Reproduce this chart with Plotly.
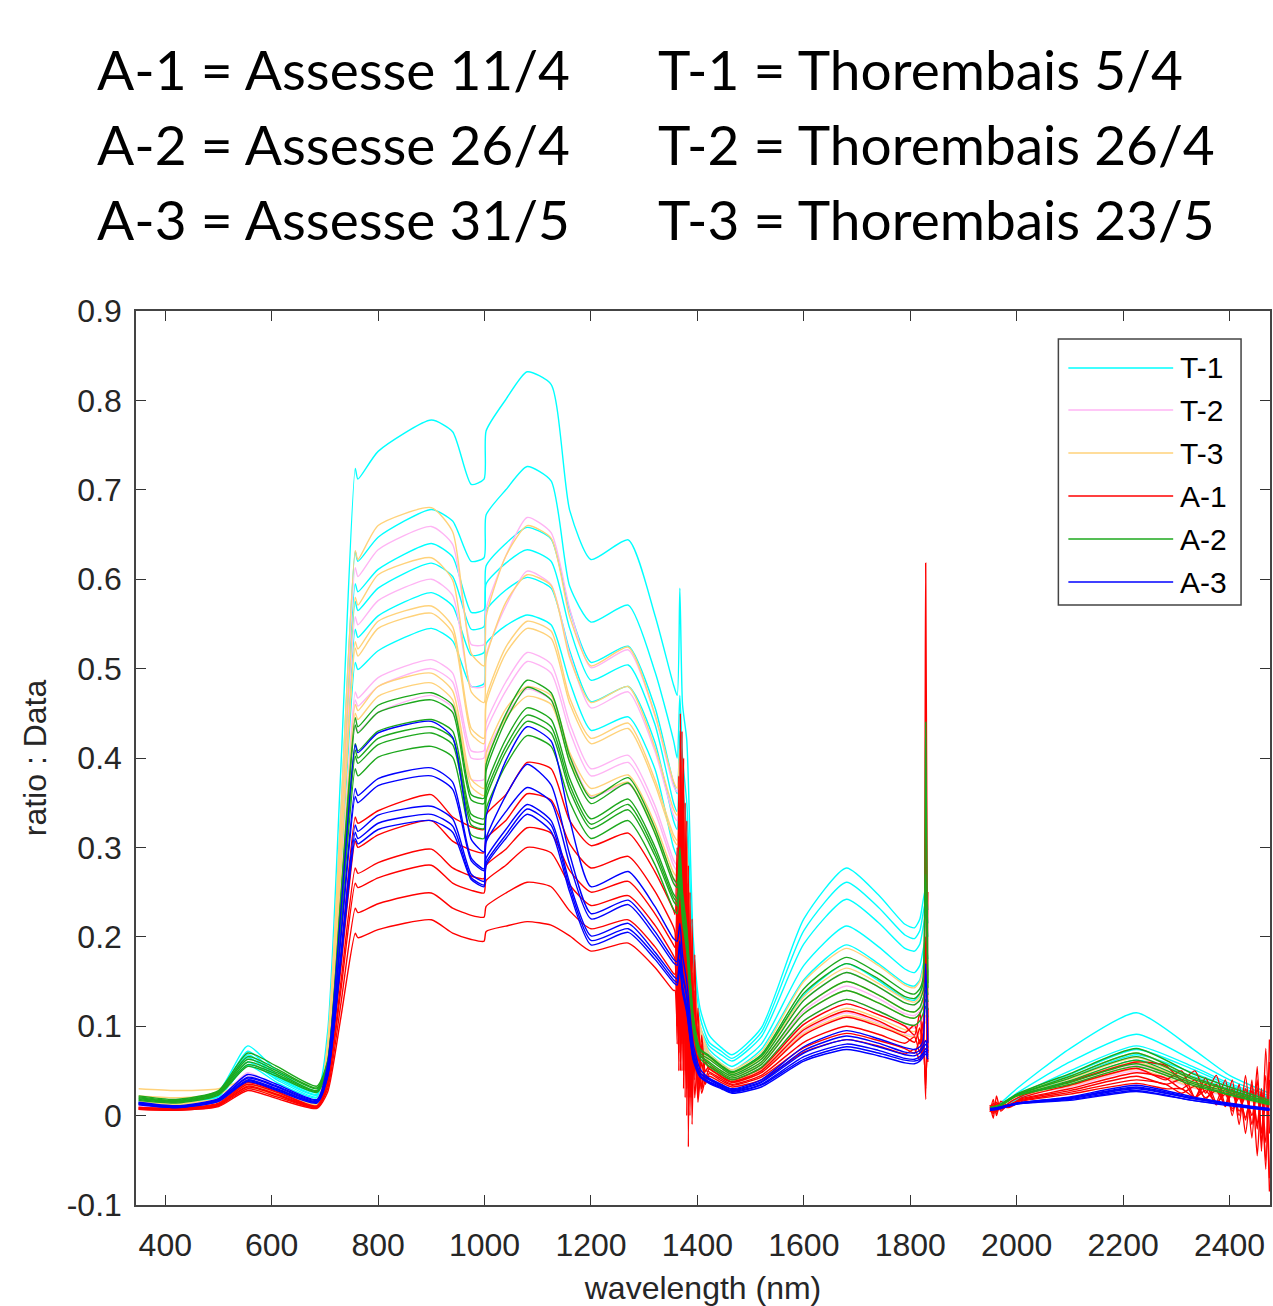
import plotly.graph_objects as go

# ---------------- wavelength grids (nm) ----------------
WL_VNIR = [350, 420, 500, 555, 610, 685, 705, 730, 757, 762, 800, 900, 940, 975, 999, 1003,
           1040, 1080, 1125, 1160, 1200, 1270, 1320, 1355]
WL_H2O_SMOOTH = [1362, 1367, 1372, 1380, 1392, 1405, 1422]
WL_H2O_NOISY = [1358, 1362, 1365, 1368, 1371, 1374, 1377, 1380, 1383, 1386, 1390, 1395, 1401, 1408, 1415, 1422]
WL_SWIR1 = [1445, 1465, 1520, 1600, 1680, 1740, 1790, 1808, 1818, 1824, 1829, 1833]
WL_GAP = 1890
WL_SWIR2_SMOOTH = [1950, 1965, 2000, 2100, 2225, 2330, 2400, 2475]
WL_SWIR2_NOISY = [1950, 1956, 1962, 1970, 1985, 2010, 2100, 2225, 2280, 2310, 2335, 2355, 2375, 2392,
                  2405, 2418, 2430, 2442, 2452, 2460, 2468, 2475]

# ---------------- T-1 (Thorembais 5/4) ----------------
T1_VNIR = [
    [0.016, 0.014, 0.027, 0.078, 0.050, 0.028, 0.093, 0.389, 0.724, 0.712, 0.743, 0.778, 0.765, 0.706, 0.712, 0.766, 0.801, 0.832, 0.818, 0.677, 0.622, 0.644, 0.560, 0.482],
    [0.015, 0.013, 0.025, 0.072, 0.046, 0.026, 0.081, 0.339, 0.631, 0.620, 0.647, 0.678, 0.665, 0.620, 0.624, 0.672, 0.700, 0.726, 0.710, 0.592, 0.552, 0.571, 0.497, 0.420],
    [0.015, 0.012, 0.024, 0.068, 0.044, 0.024, 0.077, 0.320, 0.595, 0.586, 0.611, 0.640, 0.625, 0.563, 0.566, 0.615, 0.640, 0.658, 0.645, 0.565, 0.507, 0.525, 0.457, 0.372],
    [0.014, 0.012, 0.023, 0.065, 0.042, 0.023, 0.074, 0.309, 0.575, 0.565, 0.590, 0.618, 0.603, 0.544, 0.547, 0.595, 0.618, 0.633, 0.620, 0.545, 0.487, 0.504, 0.438, 0.350],
    [0.014, 0.011, 0.022, 0.060, 0.040, 0.021, 0.070, 0.293, 0.544, 0.535, 0.559, 0.585, 0.570, 0.515, 0.518, 0.565, 0.588, 0.602, 0.590, 0.520, 0.463, 0.480, 0.418, 0.330],
    [0.013, 0.011, 0.021, 0.056, 0.037, 0.020, 0.065, 0.273, 0.507, 0.499, 0.520, 0.545, 0.531, 0.480, 0.483, 0.528, 0.548, 0.560, 0.549, 0.485, 0.431, 0.446, 0.388, 0.300],
]
T1_H2O = [
    [0.470, 0.590, 0.460, 0.420, 0.200, 0.120, 0.090],
    [0.400, 0.470, 0.400, 0.350, 0.180, 0.110, 0.082],
    [0.360, 0.430, 0.370, 0.320, 0.165, 0.100, 0.078],
    [0.340, 0.400, 0.345, 0.300, 0.155, 0.095, 0.074],
    [0.320, 0.380, 0.330, 0.280, 0.145, 0.090, 0.070],
    [0.290, 0.360, 0.300, 0.260, 0.135, 0.085, 0.066],
]
T1_SWIR1 = [
    [0.076, 0.068, 0.098, 0.220, 0.277, 0.247, 0.214, 0.210, 0.220, 0.240, 0.255, 0.230],
    [0.072, 0.064, 0.093, 0.207, 0.261, 0.233, 0.202, 0.198, 0.207, 0.226, 0.240, 0.215],
    [0.068, 0.061, 0.088, 0.192, 0.242, 0.216, 0.187, 0.184, 0.192, 0.210, 0.225, 0.200],
    [0.062, 0.055, 0.080, 0.168, 0.212, 0.189, 0.164, 0.160, 0.168, 0.185, 0.198, 0.175],
    [0.058, 0.051, 0.074, 0.152, 0.191, 0.170, 0.148, 0.145, 0.152, 0.168, 0.180, 0.160],
    [0.054, 0.048, 0.068, 0.135, 0.170, 0.151, 0.131, 0.129, 0.136, 0.150, 0.162, 0.142],
]
T1_SWIR2 = [
    [0.010, 0.012, 0.030, 0.075, 0.115, 0.075, 0.045, 0.025],
    [0.008, 0.010, 0.025, 0.060, 0.091, 0.062, 0.040, 0.022],
    [0.008, 0.010, 0.022, 0.050, 0.078, 0.055, 0.036, 0.020],
    [0.007, 0.009, 0.020, 0.046, 0.074, 0.052, 0.034, 0.019],
    [0.007, 0.009, 0.019, 0.042, 0.068, 0.048, 0.032, 0.018],
    [0.006, 0.008, 0.018, 0.038, 0.062, 0.044, 0.030, 0.017],
]

# ---------------- T-2 (Thorembais 26/4) ----------------
T2_VNIR = [
    [0.013, 0.011, 0.019, 0.048, 0.032, 0.016, 0.079, 0.330, 0.613, 0.603, 0.633, 0.659, 0.639, 0.527, 0.527, 0.567, 0.626, 0.669, 0.652, 0.567, 0.501, 0.521, 0.448, 0.369],
    [0.012, 0.010, 0.018, 0.045, 0.030, 0.015, 0.072, 0.300, 0.558, 0.549, 0.576, 0.600, 0.582, 0.480, 0.480, 0.516, 0.570, 0.609, 0.594, 0.516, 0.456, 0.474, 0.408, 0.336],
    [0.011, 0.010, 0.017, 0.042, 0.028, 0.014, 0.061, 0.255, 0.474, 0.467, 0.490, 0.510, 0.495, 0.408, 0.408, 0.439, 0.485, 0.518, 0.505, 0.439, 0.388, 0.403, 0.347, 0.286],
    [0.011, 0.009, 0.017, 0.041, 0.027, 0.014, 0.060, 0.250, 0.465, 0.458, 0.480, 0.500, 0.485, 0.400, 0.400, 0.430, 0.475, 0.508, 0.495, 0.430, 0.380, 0.395, 0.340, 0.280],
    [0.010, 0.009, 0.016, 0.040, 0.026, 0.013, 0.056, 0.235, 0.437, 0.430, 0.451, 0.470, 0.456, 0.376, 0.376, 0.404, 0.447, 0.477, 0.465, 0.404, 0.357, 0.371, 0.320, 0.263],
]
T2_H2O = [
    [0.362, 0.400, 0.350, 0.295, 0.155, 0.100, 0.064],
    [0.330, 0.365, 0.320, 0.270, 0.140, 0.090, 0.059],
    [0.280, 0.310, 0.272, 0.229, 0.120, 0.077, 0.055],
    [0.274, 0.305, 0.266, 0.224, 0.118, 0.076, 0.055],
    [0.258, 0.290, 0.250, 0.210, 0.110, 0.071, 0.053],
]
T2_SWIR1 = [
    [0.053, 0.046, 0.063, 0.129, 0.160, 0.144, 0.126, 0.124, 0.129, 0.139, 0.150, 0.135],
    [0.049, 0.043, 0.058, 0.117, 0.145, 0.131, 0.114, 0.112, 0.117, 0.127, 0.135, 0.123],
    [0.046, 0.040, 0.054, 0.106, 0.130, 0.117, 0.103, 0.101, 0.106, 0.114, 0.122, 0.110],
    [0.046, 0.040, 0.053, 0.102, 0.125, 0.113, 0.100, 0.098, 0.102, 0.110, 0.118, 0.106],
    [0.044, 0.038, 0.050, 0.094, 0.115, 0.104, 0.092, 0.090, 0.094, 0.101, 0.108, 0.098],
]
T2_SWIR2 = [
    [0.008, 0.010, 0.023, 0.042, 0.066, 0.041, 0.028, 0.015],
    [0.008, 0.010, 0.022, 0.038, 0.060, 0.037, 0.025, 0.013],
    [0.007, 0.009, 0.022, 0.035, 0.056, 0.035, 0.024, 0.012],
    [0.007, 0.009, 0.021, 0.033, 0.052, 0.032, 0.022, 0.011],
    [0.007, 0.009, 0.021, 0.032, 0.050, 0.031, 0.021, 0.011],
]

# ---------------- T-3 (Thorembais 23/5) ----------------
T3_VNIR = [
    [0.030, 0.028, 0.030, 0.040, 0.030, 0.018, 0.082, 0.340, 0.632, 0.622, 0.660, 0.680, 0.653, 0.517, 0.503, 0.558, 0.626, 0.660, 0.646, 0.558, 0.503, 0.524, 0.449, 0.374],
    [0.022, 0.020, 0.024, 0.038, 0.028, 0.016, 0.075, 0.312, 0.580, 0.571, 0.605, 0.624, 0.599, 0.474, 0.462, 0.512, 0.574, 0.605, 0.593, 0.512, 0.462, 0.480, 0.412, 0.343],
    [0.016, 0.014, 0.019, 0.035, 0.025, 0.014, 0.068, 0.285, 0.530, 0.522, 0.553, 0.570, 0.547, 0.433, 0.422, 0.467, 0.524, 0.553, 0.542, 0.467, 0.422, 0.439, 0.376, 0.314],
    [0.015, 0.013, 0.018, 0.034, 0.024, 0.013, 0.067, 0.281, 0.523, 0.514, 0.545, 0.562, 0.540, 0.427, 0.416, 0.461, 0.517, 0.545, 0.534, 0.461, 0.416, 0.433, 0.371, 0.309],
    [0.013, 0.012, 0.016, 0.032, 0.022, 0.012, 0.059, 0.248, 0.460, 0.453, 0.480, 0.495, 0.475, 0.376, 0.366, 0.406, 0.455, 0.480, 0.470, 0.406, 0.366, 0.381, 0.327, 0.272],
    [0.012, 0.011, 0.015, 0.031, 0.021, 0.011, 0.058, 0.242, 0.450, 0.443, 0.469, 0.484, 0.465, 0.368, 0.358, 0.397, 0.445, 0.469, 0.460, 0.397, 0.358, 0.373, 0.319, 0.266],
]
T3_H2O = [
    [0.366, 0.410, 0.355, 0.300, 0.157, 0.101, 0.070],
    [0.336, 0.377, 0.326, 0.274, 0.144, 0.093, 0.065],
    [0.308, 0.345, 0.298, 0.251, 0.132, 0.085, 0.060],
    [0.303, 0.340, 0.294, 0.247, 0.130, 0.083, 0.058],
    [0.267, 0.300, 0.258, 0.218, 0.114, 0.073, 0.054],
    [0.261, 0.293, 0.253, 0.213, 0.112, 0.072, 0.052],
]
T3_SWIR1 = [
    [0.058, 0.051, 0.071, 0.150, 0.187, 0.168, 0.146, 0.143, 0.150, 0.163, 0.175, 0.157],
    [0.054, 0.047, 0.065, 0.133, 0.165, 0.148, 0.130, 0.127, 0.133, 0.144, 0.155, 0.139],
    [0.050, 0.044, 0.060, 0.121, 0.150, 0.135, 0.118, 0.116, 0.121, 0.131, 0.140, 0.127],
    [0.048, 0.042, 0.057, 0.114, 0.140, 0.126, 0.111, 0.109, 0.114, 0.122, 0.130, 0.118],
    [0.045, 0.039, 0.051, 0.098, 0.120, 0.109, 0.096, 0.094, 0.098, 0.105, 0.112, 0.102],
    [0.043, 0.037, 0.048, 0.092, 0.112, 0.102, 0.090, 0.088, 0.092, 0.099, 0.105, 0.096],
]
T3_SWIR2 = [
    [0.009, 0.011, 0.023, 0.044, 0.070, 0.043, 0.029, 0.015],
    [0.008, 0.010, 0.023, 0.041, 0.065, 0.040, 0.027, 0.014],
    [0.008, 0.010, 0.022, 0.038, 0.060, 0.037, 0.025, 0.013],
    [0.008, 0.010, 0.022, 0.037, 0.058, 0.036, 0.024, 0.013],
    [0.007, 0.009, 0.022, 0.035, 0.055, 0.034, 0.023, 0.012],
    [0.007, 0.009, 0.021, 0.033, 0.052, 0.032, 0.022, 0.011],
]

# ---------------- A-1 (Assesse 11/4) ----------------
A1_VNIR = [
    [0.009, 0.008, 0.014, 0.037, 0.027, 0.011, 0.043, 0.180, 0.334, 0.327, 0.341, 0.359, 0.334, 0.323, 0.320, 0.337, 0.359, 0.395, 0.388, 0.330, 0.302, 0.316, 0.273, 0.230],
    [0.009, 0.008, 0.013, 0.035, 0.026, 0.010, 0.040, 0.165, 0.307, 0.300, 0.314, 0.330, 0.307, 0.297, 0.294, 0.310, 0.330, 0.360, 0.353, 0.304, 0.277, 0.290, 0.251, 0.211],
    [0.008, 0.007, 0.012, 0.033, 0.024, 0.010, 0.036, 0.149, 0.277, 0.271, 0.283, 0.298, 0.277, 0.268, 0.265, 0.280, 0.298, 0.322, 0.316, 0.274, 0.250, 0.262, 0.226, 0.191],
    [0.008, 0.007, 0.012, 0.032, 0.023, 0.009, 0.034, 0.140, 0.260, 0.255, 0.266, 0.280, 0.260, 0.252, 0.249, 0.263, 0.280, 0.300, 0.294, 0.258, 0.235, 0.246, 0.213, 0.179],
    [0.007, 0.006, 0.011, 0.030, 0.021, 0.009, 0.030, 0.125, 0.232, 0.227, 0.237, 0.249, 0.232, 0.224, 0.222, 0.234, 0.249, 0.261, 0.256, 0.229, 0.209, 0.219, 0.189, 0.159],
    [0.007, 0.006, 0.010, 0.028, 0.019, 0.008, 0.026, 0.110, 0.204, 0.199, 0.208, 0.219, 0.204, 0.197, 0.195, 0.206, 0.212, 0.217, 0.213, 0.201, 0.184, 0.193, 0.166, 0.140],
]
A1_H2O = [
    [0.225, 0.300, 0.120, 0.450, 0.080, 0.400, 0.050, 0.330, -0.035, 0.250, 0.020, 0.180, 0.030, 0.090, 0.050, 0.055],
    [0.205, 0.100, 0.380, 0.050, 0.430, 0.100, 0.350, 0.000, 0.280, 0.020, 0.220, 0.040, 0.120, 0.030, 0.060, 0.053],
    [0.188, 0.250, 0.050, 0.350, 0.120, 0.300, 0.020, 0.260, 0.060, 0.200, -0.010, 0.140, 0.020, 0.080, 0.040, 0.052],
    [0.175, 0.080, 0.280, 0.100, 0.320, 0.030, 0.270, 0.080, 0.220, 0.000, 0.160, 0.050, 0.100, 0.030, 0.050, 0.049],
    [0.158, 0.220, 0.070, 0.250, 0.050, 0.240, 0.100, 0.180, 0.020, 0.150, 0.040, 0.100, 0.015, 0.060, 0.035, 0.047],
    [0.140, 0.100, 0.200, 0.060, 0.210, 0.080, 0.170, 0.030, 0.150, 0.040, 0.110, 0.020, 0.070, 0.025, 0.040, 0.044],
]
A1_SWIR1 = [
    [0.046, 0.040, 0.053, 0.102, 0.125, 0.113, 0.100, 0.090, 0.115, 0.080, 0.618, 0.090],
    [0.044, 0.038, 0.050, 0.096, 0.117, 0.106, 0.093, 0.101, 0.080, 0.105, 0.018, 0.250],
    [0.043, 0.037, 0.048, 0.090, 0.110, 0.100, 0.088, 0.082, 0.098, 0.070, 0.350, 0.060],
    [0.041, 0.035, 0.045, 0.082, 0.100, 0.091, 0.081, 0.088, 0.070, 0.092, 0.030, 0.120],
    [0.039, 0.034, 0.043, 0.076, 0.092, 0.084, 0.075, 0.070, 0.085, 0.065, 0.200, 0.070],
    [0.037, 0.032, 0.040, 0.071, 0.085, 0.078, 0.069, 0.074, 0.062, 0.080, 0.040, 0.090],
]
A1_SWIR2 = [
    [0.012, -0.003, 0.022, 0.005, 0.014, 0.022, 0.038, 0.060, 0.056, 0.040, 0.050, 0.025, 0.045, 0.012, 0.040, -0.010, 0.045, -0.025, 0.055, -0.040, 0.075, -0.020],
    [0.004, 0.018, 0.000, 0.016, 0.010, 0.020, 0.034, 0.053, 0.040, 0.050, 0.020, 0.042, 0.015, 0.040, 0.000, 0.035, -0.020, 0.040, -0.045, 0.030, -0.060, 0.085],
    [0.010, 0.002, 0.015, 0.008, 0.012, 0.019, 0.030, 0.048, 0.042, 0.030, 0.040, 0.018, 0.035, 0.010, 0.030, 0.000, 0.030, -0.010, 0.040, -0.030, 0.020, -0.085],
    [0.006, 0.014, 0.004, 0.012, 0.010, 0.018, 0.028, 0.044, 0.035, 0.040, 0.020, 0.035, 0.012, 0.030, 0.005, 0.025, -0.005, 0.035, -0.015, 0.025, -0.050, 0.040],
    [0.009, 0.004, 0.013, 0.007, 0.011, 0.017, 0.026, 0.040, 0.035, 0.025, 0.033, 0.020, 0.028, 0.012, 0.025, 0.005, 0.022, 0.000, 0.030, -0.020, 0.045, -0.070],
    [0.007, 0.012, 0.005, 0.010, 0.009, 0.016, 0.024, 0.036, 0.030, 0.030, 0.020, 0.028, 0.014, 0.024, 0.008, 0.020, -0.002, 0.028, -0.010, 0.030, -0.030, 0.060],
]

# ---------------- A-2 (Assesse 26/4) ----------------
A2_VNIR = [
    [0.022, 0.018, 0.028, 0.070, 0.055, 0.033, 0.061, 0.246, 0.445, 0.435, 0.459, 0.473, 0.459, 0.359, 0.355, 0.393, 0.449, 0.487, 0.473, 0.402, 0.355, 0.378, 0.322, 0.265],
    [0.021, 0.017, 0.027, 0.066, 0.052, 0.031, 0.060, 0.242, 0.437, 0.428, 0.451, 0.465, 0.451, 0.353, 0.349, 0.386, 0.442, 0.479, 0.465, 0.395, 0.349, 0.372, 0.316, 0.260],
    [0.020, 0.016, 0.026, 0.063, 0.050, 0.030, 0.058, 0.230, 0.416, 0.408, 0.430, 0.443, 0.430, 0.337, 0.332, 0.368, 0.421, 0.456, 0.443, 0.377, 0.332, 0.354, 0.301, 0.248],
    [0.019, 0.016, 0.025, 0.060, 0.048, 0.028, 0.057, 0.226, 0.409, 0.400, 0.422, 0.435, 0.422, 0.331, 0.326, 0.361, 0.413, 0.448, 0.435, 0.370, 0.326, 0.348, 0.296, 0.244],
    [0.018, 0.015, 0.024, 0.057, 0.046, 0.027, 0.056, 0.223, 0.402, 0.394, 0.415, 0.428, 0.415, 0.325, 0.321, 0.355, 0.407, 0.441, 0.428, 0.364, 0.321, 0.342, 0.291, 0.240],
    [0.017, 0.014, 0.023, 0.055, 0.044, 0.026, 0.054, 0.215, 0.388, 0.380, 0.401, 0.413, 0.401, 0.314, 0.310, 0.343, 0.392, 0.425, 0.413, 0.351, 0.310, 0.330, 0.281, 0.231],
]
A2_H2O = [
    [0.260, 0.300, 0.250, 0.210, 0.112, 0.075, 0.067],
    [0.255, 0.290, 0.245, 0.206, 0.110, 0.073, 0.066],
    [0.243, 0.278, 0.234, 0.196, 0.105, 0.070, 0.063],
    [0.239, 0.272, 0.230, 0.193, 0.103, 0.068, 0.060],
    [0.235, 0.268, 0.226, 0.190, 0.101, 0.067, 0.058],
    [0.226, 0.258, 0.218, 0.183, 0.097, 0.064, 0.055],
]
A2_SWIR1 = [
    [0.056, 0.049, 0.068, 0.142, 0.177, 0.159, 0.139, 0.136, 0.142, 0.154, 0.440, 0.148],
    [0.055, 0.048, 0.066, 0.137, 0.170, 0.153, 0.133, 0.131, 0.137, 0.148, 0.270, 0.143],
    [0.053, 0.046, 0.063, 0.129, 0.160, 0.144, 0.126, 0.124, 0.129, 0.139, 0.150, 0.135],
    [0.050, 0.044, 0.060, 0.121, 0.150, 0.135, 0.118, 0.116, 0.121, 0.131, 0.140, 0.127],
    [0.048, 0.042, 0.057, 0.114, 0.140, 0.126, 0.111, 0.109, 0.114, 0.122, 0.130, 0.118],
    [0.046, 0.040, 0.054, 0.106, 0.130, 0.117, 0.103, 0.101, 0.106, 0.114, 0.122, 0.110],
]
A2_SWIR2 = [
    [0.009, 0.011, 0.024, 0.047, 0.075, 0.047, 0.032, 0.017],
    [0.009, 0.011, 0.023, 0.044, 0.070, 0.043, 0.029, 0.015],
    [0.008, 0.010, 0.023, 0.042, 0.066, 0.041, 0.028, 0.015],
    [0.008, 0.010, 0.022, 0.039, 0.062, 0.038, 0.026, 0.014],
    [0.008, 0.010, 0.022, 0.037, 0.058, 0.036, 0.024, 0.013],
    [0.007, 0.009, 0.022, 0.035, 0.055, 0.034, 0.023, 0.012],
]

# ---------------- A-3 (Assesse 31/5) ----------------
A3_VNIR = [
    [0.015, 0.011, 0.019, 0.046, 0.035, 0.018, 0.057, 0.229, 0.415, 0.406, 0.428, 0.441, 0.423, 0.309, 0.295, 0.335, 0.397, 0.435, 0.419, 0.331, 0.256, 0.273, 0.234, 0.198],
    [0.014, 0.010, 0.018, 0.043, 0.033, 0.017, 0.051, 0.202, 0.366, 0.358, 0.377, 0.389, 0.373, 0.288, 0.276, 0.310, 0.358, 0.393, 0.370, 0.292, 0.226, 0.241, 0.206, 0.175],
    [0.014, 0.010, 0.018, 0.042, 0.032, 0.016, 0.049, 0.198, 0.357, 0.350, 0.369, 0.380, 0.365, 0.285, 0.274, 0.306, 0.340, 0.367, 0.351, 0.281, 0.220, 0.236, 0.201, 0.171],
    [0.013, 0.009, 0.017, 0.040, 0.030, 0.015, 0.045, 0.180, 0.325, 0.318, 0.336, 0.346, 0.332, 0.270, 0.262, 0.288, 0.320, 0.348, 0.330, 0.260, 0.201, 0.215, 0.183, 0.156],
    [0.013, 0.009, 0.016, 0.039, 0.029, 0.015, 0.044, 0.175, 0.317, 0.310, 0.327, 0.337, 0.324, 0.266, 0.258, 0.283, 0.314, 0.343, 0.325, 0.255, 0.196, 0.209, 0.179, 0.152],
    [0.012, 0.009, 0.016, 0.038, 0.028, 0.014, 0.043, 0.172, 0.310, 0.304, 0.320, 0.330, 0.317, 0.264, 0.256, 0.280, 0.310, 0.337, 0.318, 0.250, 0.191, 0.205, 0.175, 0.149],
]
A3_H2O = [
    [0.195, 0.215, 0.180, 0.150, 0.080, 0.052, 0.042],
    [0.172, 0.195, 0.160, 0.135, 0.072, 0.048, 0.041],
    [0.168, 0.190, 0.157, 0.132, 0.070, 0.047, 0.040],
    [0.153, 0.175, 0.145, 0.122, 0.066, 0.045, 0.038],
    [0.149, 0.170, 0.141, 0.118, 0.064, 0.044, 0.037],
    [0.146, 0.165, 0.138, 0.115, 0.062, 0.043, 0.036],
]
A3_SWIR1 = [
    [0.035, 0.030, 0.040, 0.077, 0.095, 0.086, 0.076, 0.074, 0.077, 0.083, 0.170, 0.081],
    [0.034, 0.029, 0.038, 0.073, 0.089, 0.081, 0.071, 0.070, 0.073, 0.078, 0.084, 0.076],
    [0.033, 0.028, 0.037, 0.070, 0.085, 0.077, 0.068, 0.067, 0.070, 0.075, 0.080, 0.072],
    [0.032, 0.027, 0.035, 0.066, 0.080, 0.073, 0.064, 0.063, 0.066, 0.070, 0.075, 0.068],
    [0.031, 0.026, 0.034, 0.063, 0.077, 0.070, 0.062, 0.061, 0.063, 0.068, 0.072, 0.066],
    [0.030, 0.025, 0.032, 0.061, 0.074, 0.067, 0.059, 0.058, 0.061, 0.065, 0.069, 0.063],
]
A3_SWIR2 = [
    [0.008, 0.009, 0.014, 0.021, 0.034, 0.021, 0.014, 0.008],
    [0.007, 0.009, 0.014, 0.020, 0.032, 0.020, 0.013, 0.007],
    [0.007, 0.008, 0.014, 0.020, 0.031, 0.019, 0.013, 0.007],
    [0.007, 0.008, 0.013, 0.019, 0.030, 0.019, 0.013, 0.007],
    [0.006, 0.008, 0.013, 0.018, 0.028, 0.017, 0.012, 0.006],
    [0.006, 0.007, 0.013, 0.017, 0.027, 0.017, 0.011, 0.006],
]

GROUP_NAMES = ["T-1", "T-2", "T-3", "A-1", "A-2", "A-3"]
GROUP_COLORS = ["#00FFFF", "#FFB4F4", "#FFD27A", "#FF0000", "#1DA81D", "#0000FF"]
TITLE_LEFT = ["A-1 = Assesse 11/4", "A-2 = Assesse 26/4", "A-3 = Assesse 31/5"]
TITLE_RIGHT = ["T-1 = Thorembais 5/4", "T-2 = Thorembais 26/4", "T-3 = Thorembais 23/5"]
Y_TICKS = [-0.1, 0, 0.1, 0.2, 0.3, 0.4, 0.5, 0.6, 0.7, 0.8, 0.9]
Y_TICKTEXT = ["-0.1", "0", "0.1", "0.2", "0.3", "0.4", "0.5", "0.6", "0.7", "0.8", "0.9"]
X_TICKS = [400, 600, 800, 1000, 1200, 1400, 1600, 1800, 2000, 2200, 2400]

groups = [
    (T1_VNIR, T1_H2O, WL_H2O_SMOOTH, T1_SWIR1, T1_SWIR2, WL_SWIR2_SMOOTH),
    (T2_VNIR, T2_H2O, WL_H2O_SMOOTH, T2_SWIR1, T2_SWIR2, WL_SWIR2_SMOOTH),
    (T3_VNIR, T3_H2O, WL_H2O_SMOOTH, T3_SWIR1, T3_SWIR2, WL_SWIR2_SMOOTH),
    (A1_VNIR, A1_H2O, WL_H2O_NOISY, A1_SWIR1, A1_SWIR2, WL_SWIR2_NOISY),
    (A2_VNIR, A2_H2O, WL_H2O_SMOOTH, A2_SWIR1, A2_SWIR2, WL_SWIR2_SMOOTH),
    (A3_VNIR, A3_H2O, WL_H2O_SMOOTH, A3_SWIR1, A3_SWIR2, WL_SWIR2_SMOOTH),
]

fig = go.Figure()
for (vn, h2, h2x, s1, s2, s2x), name, color in zip(groups, GROUP_NAMES, GROUP_COLORS):
    for i in range(len(vn)):
        x = WL_VNIR + h2x + WL_SWIR1 + [WL_GAP] + s2x
        y = vn[i] + h2[i] + s1[i] + [None] + s2[i]
        fig.add_trace(go.Scatter(x=x, y=y, mode="lines", name=name, legendgroup=name,
                                 showlegend=False, connectgaps=False,
                                 line=dict(color=color, width=1.4, shape="spline", smoothing=0.6),
                                 hoverinfo="skip"))

AX_FONT = "Liberation Sans, Arial, Helvetica, sans-serif"
fig.update_layout(
    width=1273, height=1306,
    margin=dict(l=136, r=1, t=311, b=101),
    paper_bgcolor="white", plot_bgcolor="white",
    showlegend=False,
    xaxis=dict(range=[345, 2476], tickvals=X_TICKS, ticks="inside", ticklen=10, tickwidth=1.2,
               tickcolor="#333333", showline=True, linecolor="#444444", linewidth=1.5, mirror="ticks",
               showgrid=False, zeroline=False,
               tickfont=dict(family=AX_FONT, size=32, color="#262626"), ticklabelstandoff=11,
               title=dict(text="wavelength (nm)", font=dict(family=AX_FONT, size=32, color="#262626"), standoff=14)),
    yaxis=dict(range=[-0.1, 0.9], tickvals=Y_TICKS, ticktext=Y_TICKTEXT, ticks="inside", ticklen=10,
               tickwidth=1.2, tickcolor="#333333", showline=True, linecolor="#444444", linewidth=1.5,
               mirror="ticks", showgrid=False, zeroline=False,
               tickfont=dict(family=AX_FONT, size=32, color="#262626"), ticklabelstandoff=6,
               title=dict(text="ratio : Data", font=dict(family=AX_FONT, size=32, color="#262626"), standoff=11)),
)

# title block (two columns, three rows)
W_PLOT = 1136.0
H_PLOT = 894.0
def px_x(p):
    return (p - 136) / W_PLOT
def px_y(p):
    return (1205 - p) / H_PLOT

row_y = [69, 144, 219]
for k in range(3):
    for txt, xpix in ((TITLE_LEFT[k], 95), (TITLE_RIGHT[k], 657)):
        fig.add_annotation(text=txt, xref="paper", yref="paper", x=px_x(xpix), y=px_y(row_y[k]),
                           xanchor="left", yanchor="middle", showarrow=False,
                           font=dict(family="Lato, Carlito, sans-serif", size=55, color="black"))

# legend box drawn in paper coordinates
fig.add_shape(type="rect", xref="paper", yref="paper", x0=px_x(1060), x1=px_x(1243),
              y0=px_y(605), y1=px_y(339), line=dict(color="#444444", width=1.5),
              fillcolor="white", layer="above")
leg_y = [368, 410, 453, 496, 539, 582]
for name, color, yy in zip(GROUP_NAMES, GROUP_COLORS, leg_y):
    fig.add_shape(type="line", xref="paper", yref="paper", x0=px_x(1070), x1=px_x(1175),
                  y0=px_y(yy), y1=px_y(yy), line=dict(color=color, width=1.6), layer="above")
    fig.add_annotation(text=name, xref="paper", yref="paper", x=px_x(1180), y=px_y(yy),
                       xanchor="left", yanchor="middle", showarrow=False,
                       font=dict(family=AX_FONT, size=30, color="black"))

fig.write_html("out.html", config={"displayModeBar": False},
               post_script="document.body.style.margin='0';")
